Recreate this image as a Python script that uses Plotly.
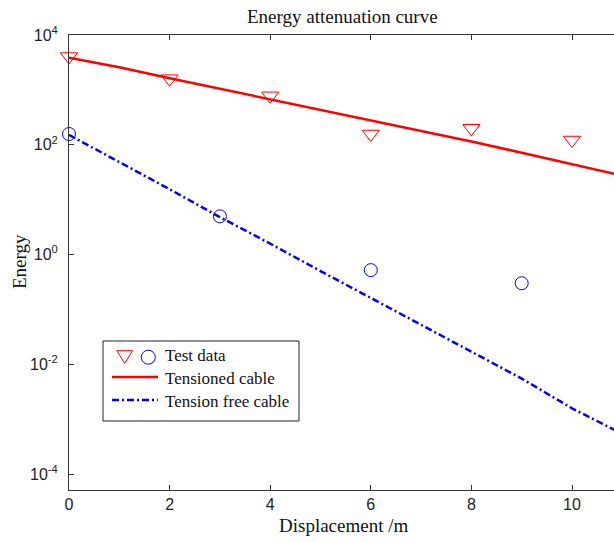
import plotly.graph_objects as go

# ---- data ----
test_x_tensioned = [0, 2, 4, 6, 8, 10]
test_y_tensioned = [4050, 1600, 780, 157, 200, 122]
test_x_free = [0, 3, 6, 9]
test_y_free = [157, 4.97, 0.52, 0.30]

curve_x = [0, 1, 2, 3, 4, 5, 6, 7, 8, 9, 10, 11]
curve_tensioned = [3860, 2580, 1630, 1050, 676, 437, 285, 182, 115, 71.6, 44.6, 27.5]
curve_free = [151, 49, 15.5, 4.8, 1.58, 0.50, 0.162, 0.051, 0.0166, 0.0055, 0.00158, 0.00054]

y_tick_vals = [1e-4, 1e-2, 1, 1e2, 1e4]
y_tick_text = ["10<sup>-4</sup>", "10<sup>-2</sup>", "10<sup>0</sup>", "10<sup>2</sup>", "10<sup>4</sup>"]
x_tick_vals = [0, 2, 4, 6, 8, 10]

title_text = "Energy attenuation curve"
x_title = "Displacement /m"
y_title = "Energy"
legend_labels = ["Test data", "Tensioned cable", "Tension free cable"]

RED = "#ff0000"
BLUE = "#0000ff"
SERIF = "Liberation Serif, Times New Roman, serif"
SANS = "Liberation Sans, Arial, sans-serif"
AXIS_COLOR = "#333333"

W, H = 614, 542
ML, MR, MT, MB = 69, 0, 35, 52
PW, PH = W - ML - MR, H - MT - MB


def px_x(p):
    return (p - ML) / PW


def px_y(p):
    return (H - MB - p) / PH


fig = go.Figure()

fig.add_trace(go.Scatter(x=curve_x, y=curve_tensioned, mode="lines",
                         line=dict(color=RED, width=2.5), showlegend=False))
fig.add_trace(go.Scatter(x=curve_x, y=curve_free, mode="lines",
                         line=dict(color=BLUE, width=2.5, dash="7px,3px,2px,3px"),
                         showlegend=False))
fig.add_trace(go.Scatter(x=test_x_tensioned, y=test_y_tensioned, mode="markers",
                         marker=dict(symbol="triangle-down-open", size=15,
                                     color=RED, line=dict(width=1, color=RED)),
                         cliponaxis=False, showlegend=False))
fig.add_trace(go.Scatter(x=test_x_free, y=test_y_free, mode="markers",
                         marker=dict(symbol="circle-open", size=13,
                                     color=BLUE, line=dict(width=1, color=BLUE)),
                         cliponaxis=False, showlegend=False))

# ---- custom legend ----
shapes = [
    dict(type="rect", xref="paper", yref="paper",
         x0=px_x(103), x1=px_x(299), y0=px_y(421), y1=px_y(341),
         line=dict(color="#222222", width=1), fillcolor="white", layer="above"),
    dict(type="line", xref="paper", yref="paper",
         x0=px_x(112), x1=px_x(158), y0=px_y(377), y1=px_y(377),
         line=dict(color=RED, width=2.5), layer="above"),
    dict(type="line", xref="paper", yref="paper",
         x0=px_x(112), x1=px_x(158), y0=px_y(400), y1=px_y(400),
         line=dict(color=BLUE, width=2.5, dash="7px,3px,2px,3px"), layer="above"),
    dict(type="path", xref="paper", yref="paper",
         xsizemode="pixel", ysizemode="pixel",
         xanchor=px_x(124.7), yanchor=px_y(357),
         path="M-8,6.3 L8,6.3 L0,-6.3 Z",
         line=dict(color=RED, width=1), layer="above"),
    dict(type="circle", xref="paper", yref="paper",
         xsizemode="pixel", ysizemode="pixel",
         xanchor=px_x(148.3), yanchor=px_y(357.2),
         x0=-7, x1=7, y0=-7, y1=7,
         line=dict(color=BLUE, width=1), layer="above"),
]

annotations = [
    dict(text=legend_labels[0], xref="paper", yref="paper", x=px_x(163), y=px_y(356),
         xanchor="left", yanchor="middle", showarrow=False,
         font=dict(family=SERIF, size=17, color="#111111")),
    dict(text=legend_labels[1], xref="paper", yref="paper", x=px_x(163), y=px_y(378.5),
         xanchor="left", yanchor="middle", showarrow=False,
         font=dict(family=SERIF, size=17, color="#111111")),
    dict(text=legend_labels[2], xref="paper", yref="paper", x=px_x(163), y=px_y(401),
         xanchor="left", yanchor="middle", showarrow=False,
         font=dict(family=SERIF, size=17, color="#111111")),
    dict(text=x_title, xref="paper", yref="paper", x=px_x(343.5), y=px_y(525),
         xanchor="center", yanchor="middle", showarrow=False,
         font=dict(family=SERIF, size=19, color="#111111")),
    dict(text=y_title, xref="paper", yref="paper", x=px_x(19), y=px_y(262),
         xanchor="center", yanchor="middle", showarrow=False, textangle=-90,
         font=dict(family=SERIF, size=19, color="#111111")),
    dict(text=title_text, xref="paper", yref="paper", x=px_x(342), y=px_y(17),
         xanchor="center", yanchor="middle", showarrow=False,
         font=dict(family=SERIF, size=19, color="#111111")),
]

fig.update_layout(
    width=W, height=H,
    margin=dict(l=ML, r=MR, t=MT, b=MB, pad=0),
    paper_bgcolor="white", plot_bgcolor="white",
    shapes=shapes, annotations=annotations,
    showlegend=False,
)

fig.update_xaxes(
    range=[0, 10.835], tickvals=x_tick_vals, ticks="inside", ticklen=5,
    tickcolor=AXIS_COLOR, showline=True, linecolor=AXIS_COLOR, linewidth=1,
    mirror="ticks", showgrid=False, zeroline=False,
    tickfont=dict(family=SANS, size=16, color="#222222"),
)
fig.update_yaxes(
    type="log", range=[-4.29, 4], tickvals=y_tick_vals, ticktext=y_tick_text,
    ticks="inside", ticklen=5, tickcolor=AXIS_COLOR, showline=True,
    linecolor=AXIS_COLOR, linewidth=1, mirror=False, showgrid=False,
    zeroline=False, ticklabelstandoff=7,
    tickfont=dict(family=SANS, size=16, color="#222222"),
)

fig.write_html("out.html")
